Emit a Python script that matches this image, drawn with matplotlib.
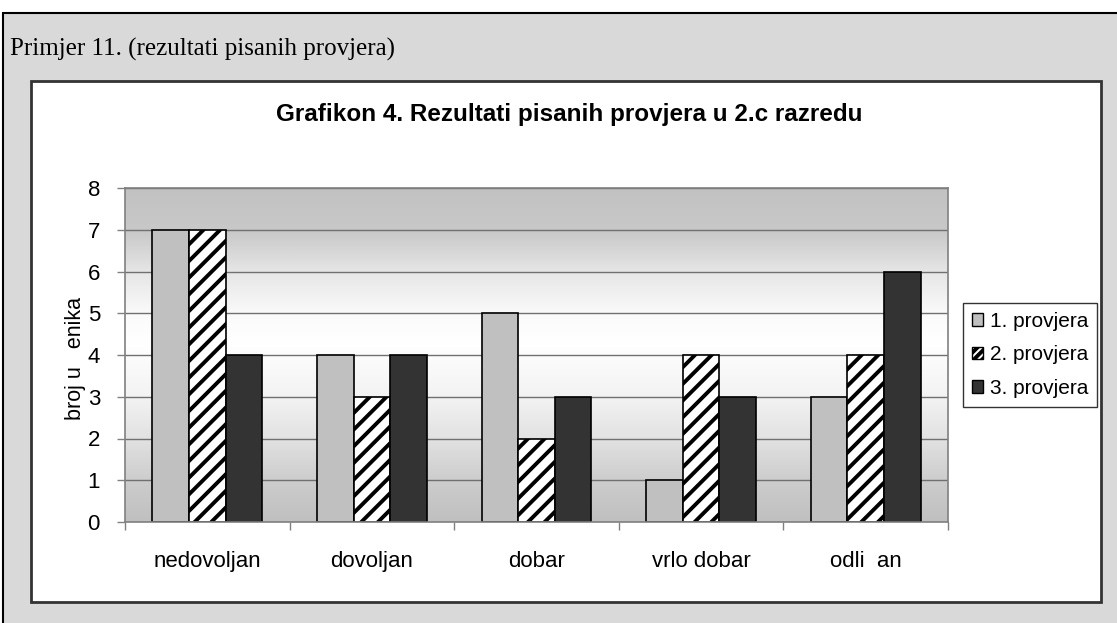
import matplotlib
matplotlib.use('Agg')
import matplotlib.pyplot as plt
import numpy as np
from matplotlib.patches import Rectangle, Patch
from matplotlib.colors import LinearSegmentedColormap

# ---- data ----
categories = ['nedovoljan', 'dovoljan', 'dobar', 'vrlo dobar', 'odli  an']
series_names = ['1. provjera', '2. provjera', '3. provjera']
provjera1 = [7, 4, 5, 1, 3]
provjera2 = [7, 3, 2, 4, 4]
provjera3 = [4, 4, 3, 3, 6]
yticks = [0, 1, 2, 3, 4, 5, 6, 7, 8]
header = 'Primjer 11. (rezultati pisanih provjera)'
title = 'Grafikon 4. Rezultati pisanih provjera u 2.c razredu'
ylabel = 'broj u   enika'

plt.rcParams['hatch.linewidth'] = 2.8
plt.rcParams['font.family'] = ['Liberation Sans', 'DejaVu Sans']

W, H = 1117, 623
fig = plt.figure(figsize=(W / 100, H / 100), dpi=100)
fig.patch.set_facecolor('white')


def frect(x0, y0, x1, y1, **kw):
    r = Rectangle((x0 / W, 1 - y1 / H), (x1 - x0) / W, (y1 - y0) / H,
                  transform=fig.transFigure, zorder=-10, **kw)
    fig.patches.append(r)
    return r


# outer grey panel and inner white chart box
frect(3, 13, 1125, 640, facecolor='#d9d9d9', edgecolor='black', linewidth=1.5)
frect(31, 81, 1101, 602, facecolor='white', edgecolor='#333333', linewidth=2)

fig.text(10 / W, 1 - 49 / H, header, family=['Liberation Serif', 'DejaVu Serif'],
         fontsize=18, ha='left', va='center', color='black')
fig.text(569 / W, 1 - 114 / H, title, fontsize=17.5, fontweight='bold',
         ha='center', va='center')

ax = fig.add_axes([125 / W, 1 - 522 / H, (948 - 125) / W, (522 - 188) / H])
ax.set_facecolor('none')

# background gradient
stops = [(0.0, '#c0c0c0'), (1 / 8, '#cdcdcd'), (2 / 8, '#e2e2e2'), (3 / 8, '#f3f3f3'),
         (4.3 / 8, '#ffffff'), (5 / 8, '#fafafa'), (6 / 8, '#e6e6e6'),
         (7 / 8, '#c8c8c8'), (1.0, '#c2c2c2')]
cmap = LinearSegmentedColormap.from_list('bg', stops)
grad = np.linspace(0, 1, 400).reshape(-1, 1)
ax.imshow(grad, cmap=cmap, aspect='auto', extent=[-0.5, 4.5, 0, 8],
          origin='lower', zorder=0, interpolation='bilinear')

x = np.arange(len(categories))
w = 0.222
ax.bar(x - w, provjera1, w, color='#c0c0c0', edgecolor='black', linewidth=1.2, zorder=2,
       label=series_names[0])
ax.bar(x, provjera2, w, color='white', edgecolor='black', hatch='//', linewidth=1.2,
       zorder=2, label=series_names[1])
ax.bar(x + w, provjera3, w, color='#333333', edgecolor='black', linewidth=1.2, zorder=2,
       label=series_names[2])

ax.set_xlim(-0.5, 4.5)
ax.set_ylim(0, 8)
ax.set_yticks(yticks)
ax.set_yticklabels([str(v) for v in yticks], fontsize=16)
ax.set_xticks(x)
ax.set_xticklabels(categories, fontsize=16)
ax.set_xticks(np.arange(-0.5, 5.0, 1.0), minor=True)
ax.tick_params(axis='x', which='major', length=0, pad=21)
ax.tick_params(axis='x', which='minor', length=6, color='#808080', width=1)
ax.tick_params(axis='y', length=6, color='#808080', width=1, pad=12)
ax.yaxis.grid(True, color='#707070', linewidth=1)
ax.set_axisbelow(True)
for s in ax.spines.values():
    s.set_color('#808080')
    s.set_linewidth(1.2)

fig.text(75 / W, 1 - 358 / H, ylabel, rotation=90, fontsize=15.5, ha='center', va='center')

handles = [Patch(facecolor='#c0c0c0', edgecolor='black', label=series_names[0]),
           Patch(facecolor='white', edgecolor='black', hatch='////', label=series_names[1]),
           Patch(facecolor='#333333', edgecolor='black', label=series_names[2])]
leg = fig.legend(handles=handles, loc='center', bbox_to_anchor=(1030 / W, 1 - 355 / H),
                 fontsize=15, frameon=True, fancybox=False, edgecolor='black',
                 handlelength=0.55, handleheight=0.55, handletextpad=0.3,
                 labelspacing=0.7, borderpad=0.45, borderaxespad=0)
leg.get_frame().set_linewidth(1)

fig.savefig('out.png', dpi=100)
